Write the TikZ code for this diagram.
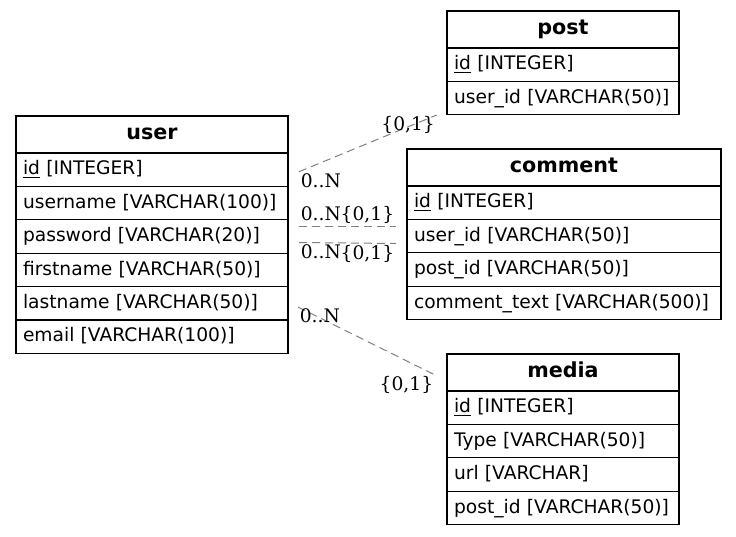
\documentclass[tikz,border=0pt]{standalone}
\usepackage{fontspec}
\setmainfont{DejaVu Sans}
\newfontfamily\lblfont{DejaVu Serif}

\tikzset{
  head/.style={draw, line width=0.9pt, outer sep=0pt, minimum width=#1, minimum height=27.75pt,
    font=\fontsize{15.5pt}{18pt}\selectfont\bfseries, text height=11.3pt, text depth=3.2pt},
  field/.style={draw, line width=0.9pt, outer sep=0pt, text width=#1, inner xsep=5.25pt, align=left,
    minimum height=25.05pt, font=\fontsize{14pt}{16pt}\selectfont, text height=10.5pt, text depth=2.8pt,
    execute at begin node={\hyphenpenalty=10000}},
  rel/.style={gray, line width=0.75pt, dash pattern=on 6pt off 3.75pt},
  card/.style={black, font=\lblfont\fontsize{14pt}{16pt}\selectfont, inner sep=1pt, text height=10.5pt, text depth=3pt}
}

\begin{document}
\begin{tikzpicture}[x=0.75pt,y=-0.75pt]
    \useasboundingbox (0,0) rectangle (736,536);

% user
\node[head=204pt] (user) at (152,134.5) {user};
\node[field=193.5pt] (user-id) at (152,169.7) {\underline{id} [INTEGER]};
\node[field=193.5pt] (user-username) at (152,203.1) {username [VARCHAR(100)]};
\node[field=193.5pt] (user-password) at (152,236.5) {password [VARCHAR(20)]};
\node[field=193.5pt] (user-firstname) at (152,269.9) {firstname [VARCHAR(50)]};
\node[field=193.5pt] (user-lastname) at (152,303.3) {lastname [VARCHAR(50)]};
\node[field=193.5pt] (user-email) at (152,336.7) {email [VARCHAR(100)]};

% post
\node[head=174pt] (post) at (563,29.5) {post};
\node[field=163.5pt] (post-id) at (563,64.7) {\underline{id} [INTEGER]};
\node[field=163.5pt] (post-userid) at (563,98.1) {user\_id [VARCHAR(50)]};

% comment
\node[head=235.5pt] (comment) at (564,167.5) {comment};
\node[field=225pt] (comment-id) at (564,202.7) {\underline{id} [INTEGER]};
\node[field=225pt] (comment-userid) at (564,236.1) {user\_id [VARCHAR(50)]};
\node[field=225pt] (comment-postid) at (564,269.5) {post\_id [VARCHAR(50)]};
\node[field=225pt] (comment-text) at (564,302.9) {comment\_text [VARCHAR(500)]};

% media
\node[head=174pt] (media) at (563,372.5) {media};
\node[field=163.5pt] (media-id) at (563,407.7) {\underline{id} [INTEGER]};
\node[field=163.5pt] (media-type) at (563,441.1) {Type [VARCHAR(50)]};
\node[field=163.5pt] (media-url) at (563,474.5) {url [VARCHAR]};
\node[field=163.5pt] (media-postid) at (563,507.9) {post\_id [VARCHAR(50)]};

% relations
\coordinate (up-a) at (299,171.7);
\coordinate (up-b) at (436.7,115);
\draw[rel] (up-a) -- (up-b)
    node[card, pos=0, anchor=north west] {0..N}
    node[card, pos=1, anchor=north east] {\{0,1\}};

\coordinate (uc-a) at (299,226);
\coordinate (uc-b) at (396,226);
\draw[rel] (uc-a) -- (uc-b)
    node[card, pos=0, anchor=south west] {0..N}
    node[card, pos=1, anchor=south east] {\{0,1\}};

\coordinate (uc2-a) at (299,242.5);
\coordinate (uc2-b) at (396,243.5);
\draw[rel] (uc2-a) -- (uc2-b)
    node[card, pos=0, anchor=north west] {0..N}
    node[card, pos=1, anchor=north east] {\{0,1\}};

\coordinate (um-a) at (298,307);
\coordinate (um-b) at (435,375);
\draw[rel] (um-a) -- (um-b)
    node[card, pos=0, anchor=north west] {0..N}
    node[card, pos=1, anchor=north east] {\{0,1\}};

\end{tikzpicture}
\end{document}
